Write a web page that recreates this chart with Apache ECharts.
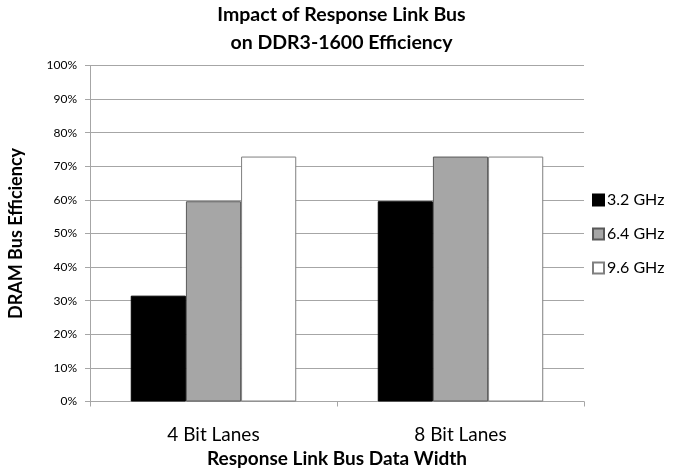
<!DOCTYPE html>
<html>
<head>
<meta charset="utf-8">
<script src="https://cdn.jsdelivr.net/npm/echarts@6/dist/echarts.min.js"></script>
<style>
  html, body { margin: 0; padding: 0; background: #fff; }
  #chart { width: 683px; height: 468px; }
</style>
</head>
<body>
<div id="chart"></div>
<script>
// Response link bus widths on the category axis
const categories = ['4 Bit Lanes', '8 Bit Lanes'];
// DRAM bus efficiency (%) for each link clock
const ghz32 = [31.5, 59.6];
const ghz64 = [59.6, 72.9];
const ghz96 = [72.9, 72.9];
const seriesNames = ['3.2 GHz', '6.4 GHz', '9.6 GHz'];
const yTicks = { min: 0, max: 100, interval: 10 };

const FONT = 'Lato, "Open Sans", sans-serif';
const GRID = '#a6a6a6';

const chart = echarts.init(document.getElementById('chart'), null, { renderer: 'canvas' });

function barSeries(name, data, fill, border) {
  return {
    name: name,
    type: 'bar',
    data: data,
    barGap: '0%',
    barCategoryGap: '33%',
    itemStyle: { color: fill, borderColor: border, borderWidth: 1 },
    emphasis: { disabled: true }
  };
}

chart.setOption({
  animation: false,
  textStyle: { fontFamily: FONT },
  title: {
    text: 'Impact of Response Link Bus\non DDR3-1600 Efficiency',
    left: 'center',
    top: 0,
    padding: [1, 0, 2, 4],
    textStyle: { fontFamily: FONT, fontSize: 19.5, fontWeight: 'bold', color: '#000', lineHeight: 28 }
  },
  legend: {
    orient: 'vertical',
    left: 587,
    top: 187,
    itemWidth: 11,
    itemHeight: 11,
    itemGap: 18,
    icon: 'rect',
    textStyle: { fontFamily: FONT, fontSize: 16, lineHeight: 16, color: '#000', padding: [0, 0, 0, -2] },
    data: seriesNames
  },
  grid: { left: 90, right: 99, top: 65.5, bottom: 66.5, outerBoundsMode: 'none' },
  xAxis: {
    type: 'category',
    data: categories,
    name: 'Response Link Bus Data Width',
    nameLocation: 'middle',
    nameGap: 40,
    nameTextStyle: { fontFamily: FONT, fontSize: 19, fontWeight: 'bold', color: '#000' },
    axisLine: { lineStyle: { color: GRID, width: 1 } },
    axisTick: { show: true, length: 5, lineStyle: { color: GRID } },
    axisLabel: { fontFamily: FONT, fontSize: 19, color: '#000', margin: 24 }
  },
  yAxis: {
    type: 'value',
    min: yTicks.min,
    max: yTicks.max,
    interval: yTicks.interval,
    name: 'DRAM Bus Efficiency',
    nameLocation: 'middle',
    nameGap: 65,
    nameTextStyle: { fontFamily: FONT, fontSize: 18, fontWeight: 'bold', color: '#000' },
    axisLine: { show: true, lineStyle: { color: GRID, width: 1 } },
    axisTick: { show: true, length: 5, lineStyle: { color: GRID } },
    axisLabel: { fontFamily: FONT, fontSize: 12, color: '#000', margin: 13, formatter: '{value}%' },
    splitLine: { lineStyle: { color: GRID, width: 1 } }
  },
  series: [
    barSeries(seriesNames[0], ghz32, '#000000', '#000000'),
    barSeries(seriesNames[1], ghz64, '#a6a6a6', '#595959'),
    barSeries(seriesNames[2], ghz96, '#ffffff', '#7f7f7f')
  ]
});
</script>
</body>
</html>
